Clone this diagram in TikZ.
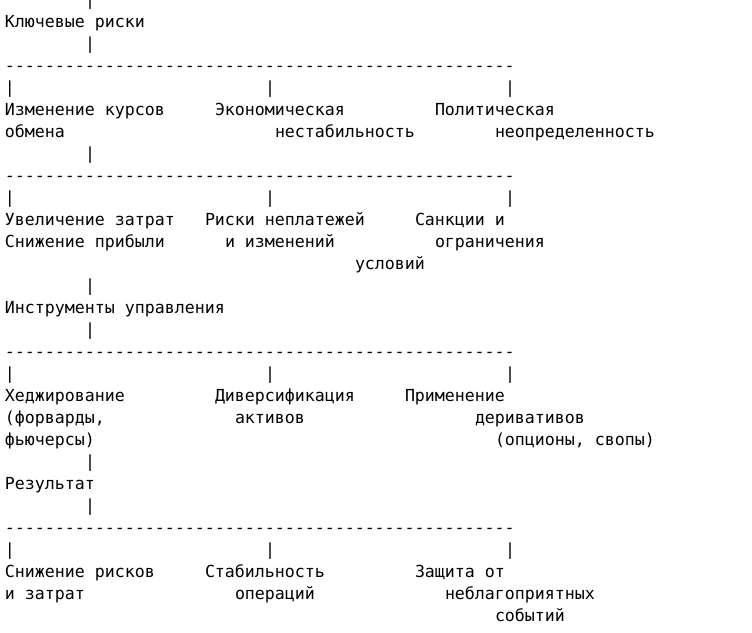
\documentclass[tikz,border=0pt]{standalone}
\usepackage{fontspec}
\setmonofont{DejaVu Sans Mono}
\begin{document}
\begin{tikzpicture}[x=1pt,y=-1pt,
  txt/.style={anchor=base west,inner sep=0pt,outer sep=0pt,
    font=\ttfamily\fontsize{16.6}{22}\selectfont,text=black}]
\useasboundingbox (0,0) rectangle (752,632);
\clip (0,0) rectangle (752,632);
\def\R#1{\numexpr5+22*#1\relax}
% row r baseline = 5+22r ; column c left = 5+10c
\node[txt] (p0)  at (85,5)   {|};
\node[txt] (k1)  at (5,27)   {Ключевые риски};
\node[txt] (p2)  at (85,49)  {|};
\node[txt] (d3)  at (5,71)   {---------------------------------------------------};
\node[txt] (p4a) at (5,93)   {|};
\node[txt] (p4b) at (265,93) {|};
\node[txt] (p4c) at (505,93) {|};
\node[txt] (a5)  at (5,115)  {Изменение курсов};
\node[txt] (b5)  at (215,115){Экономическая};
\node[txt] (c5)  at (435,115){Политическая};
\node[txt] (a6)  at (5,137)  {обмена};
\node[txt] (b6)  at (275,137){нестабильность};
\node[txt] (c6)  at (495,137){неопределенность};
\node[txt] (p7)  at (85,159) {|};
\node[txt] (d8)  at (5,181)  {---------------------------------------------------};
\node[txt] (p9a) at (5,203)  {|};
\node[txt] (p9b) at (265,203){|};
\node[txt] (p9c) at (505,203){|};
\node[txt] (a10) at (5,225)  {Увеличение затрат};
\node[txt] (b10) at (205,225){Риски неплатежей};
\node[txt] (c10) at (415,225){Санкции и};
\node[txt] (a11) at (5,247)  {Снижение прибыли};
\node[txt] (b11) at (225,247){и изменений};
\node[txt] (c11) at (435,247){ограничения};
\node[txt] (b12) at (355,269){условий};
\node[txt] (p13) at (85,291) {|};
\node[txt] (k14) at (5,313)  {Инструменты управления};
\node[txt] (p15) at (85,335) {|};
\node[txt] (d16) at (5,357)  {---------------------------------------------------};
\node[txt] (p17a) at (5,379)  {|};
\node[txt] (p17b) at (265,379){|};
\node[txt] (p17c) at (505,379){|};
\node[txt] (a18) at (5,401)  {Хеджирование};
\node[txt] (b18) at (215,401){Диверсификация};
\node[txt] (c18) at (405,401){Применение};
\node[txt] (a19) at (5,423)  {(форварды,};
\node[txt] (b19) at (235,423){активов};
\node[txt] (c19) at (475,423){деривативов};
\node[txt] (a20) at (5,445)  {фьючерсы)};
\node[txt] (c20) at (495,445){(опционы, свопы)};
\node[txt] (p21) at (85,467) {|};
\node[txt] (k22) at (5,489)  {Результат};
\node[txt] (p23) at (85,511) {|};
\node[txt] (d24) at (5,533)  {---------------------------------------------------};
\node[txt] (p25a) at (5,555)  {|};
\node[txt] (p25b) at (265,555){|};
\node[txt] (p25c) at (505,555){|};
\node[txt] (a26) at (5,577)  {Снижение рисков};
\node[txt] (b26) at (205,577){Стабильность};
\node[txt] (c26) at (415,577){Защита от};
\node[txt] (a27) at (5,599)  {и затрат};
\node[txt] (b27) at (235,599){операций};
\node[txt] (c27) at (445,599){неблагоприятных};
\node[txt] (c28) at (495,621){событий};
\end{tikzpicture}
\end{document}
